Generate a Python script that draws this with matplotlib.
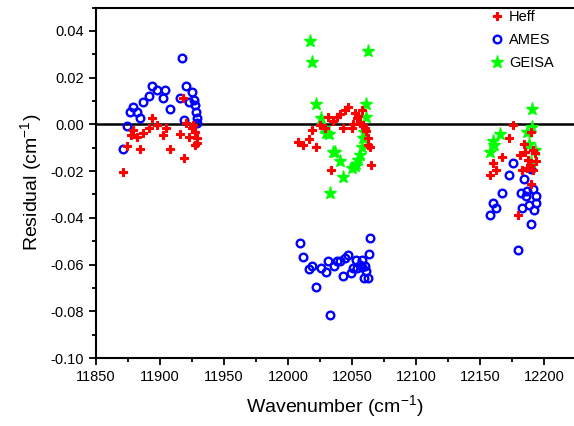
import matplotlib
matplotlib.use("Agg")
import matplotlib.pyplot as plt
from matplotlib.ticker import MultipleLocator

plt.rcParams['font.family'] = ['Liberation Sans', 'DejaVu Sans']
plt.rcParams['mathtext.default'] = 'regular'

heff_x = [11871, 11874, 11877, 11879, 11882, 11884, 11886.5, 11891.6, 11893.5, 11898,
          11902, 11904.4, 11908, 11916, 11917.7, 11918.7, 11920, 11923, 11925, 11926,
          11927, 11928.6, 11929, 11927.6,
          12008, 12011.5, 12016.7, 12019, 12022, 12025, 12029, 12031.5, 12035.4, 12038,
          12040.6, 12044.5, 12047, 12043, 12033.6, 12050, 12052, 12054, 12056, 12058,
          12058.6, 12060, 12061, 12062.7, 12064, 12062.7, 12064.6, 12051, 12055,
          12176, 12173, 12167, 12160.4, 12162.5, 12158, 12184, 12190, 12181, 12185,
          12187.7, 12191.6, 12193, 12194, 12182.5, 12186.5, 12191.6, 12189.6, 12180, 12189]
heff_y = [-0.0205, -0.0093, -0.0046, -0.0024, -0.0056, -0.0106, -0.0038, -0.0017, 0.0026, -0.0003,
          -0.0046, -0.0014, -0.0106, -0.0043, 0.0114, -0.0145, 0.0004, -0.0054, -0.0017, -0.0003,
          -0.0031, -0.0060, -0.0081, -0.0088,
          -0.0074, -0.0088, -0.0063, -0.0024, -0.0095, -0.0003, -0.0017, 0.0033, 0.0014, 0.0033,
          0.0043, 0.0061, 0.0076, -0.0017, -0.0195, -0.0017, 0.0047, 0.0026, 0.0004, 0.0061,
          -0.0003, -0.0017, -0.0030, -0.0060, -0.0095, -0.0090, -0.0174, 0.0000, 0.0035,
          -0.0003, -0.0057, -0.0138, -0.0167, -0.0195, -0.0217, -0.0085, -0.0034, -0.0131, -0.0117,
          -0.0152, -0.0110, -0.0124, -0.0157, -0.0195, -0.0185, -0.0195, -0.0256, -0.0387, -0.0175]

ames_x = [11871, 11874, 11876.6, 11879, 11882, 11884, 11886.5, 11891.6, 11893.7, 11898,
          11902, 11904, 11908, 11917, 11915.6, 11920, 11918.7, 11925, 11926.6, 11923,
          11927, 11928, 11929, 11928.6,
          12009, 12011.5, 12016.7, 12019, 12022, 12026, 12029.4, 12031.5, 12033, 12036,
          12038, 12041, 12043, 12044.5, 12047, 12049, 12050.5, 12053, 12054, 12056,
          12058, 12059, 12062.7, 12061, 12060, 12063.5, 12064, 12057.5,
          12176, 12173, 12184, 12167, 12160, 12162.5, 12158, 12181.7, 12186, 12187,
          12191.6, 12193.7, 12194, 12188.5, 12183, 12192, 12189.6, 12180, 12190]
ames_y = [-0.0107, -0.0006, 0.0054, 0.0074, 0.0054, 0.0026, 0.0094, 0.0123, 0.0165, 0.0145,
          0.0114, 0.0145, 0.0065, 0.0285, 0.0114, 0.0165, 0.0017, 0.0137, 0.0106, 0.0094,
          0.0083, 0.0054, 0.0026, 0.0004,
          -0.0507, -0.0567, -0.0618, -0.0608, -0.0697, -0.0615, -0.0630, -0.0587, -0.0818, -0.0608,
          -0.0587, -0.0587, -0.0647, -0.0570, -0.0558, -0.0637, -0.0615, -0.0580, -0.0615, -0.0601,
          -0.0580, -0.0658, -0.0658, -0.0627, -0.0608, -0.0556, -0.0487, -0.0610,
          -0.0167, -0.0217, -0.0235, -0.0295, -0.0335, -0.0356, -0.0387, -0.0295, -0.0305, -0.0285,
          -0.0276, -0.0305, -0.0338, -0.0345, -0.0356, -0.0366, -0.0427, -0.0537, -0.0190]

geisa_x = [12017, 12019, 12062.7, 12022, 12026, 12028, 12030, 12032, 12036.7, 12035.5,
           12041, 12043, 12033, 12061, 12061, 12059, 12057.5, 12056, 12055, 12052,
           12053.5, 12050, 12058.6,
           12190.4, 12191, 12186.5, 12166, 12160, 12161, 12158, 12188.5, 12193, 12189.6]
geisa_y = [0.0356, 0.0268, 0.0315, 0.0087, 0.0026, -0.0017, -0.0038, -0.0043, -0.0117, -0.0120,
           -0.0157, -0.0227, -0.0292, 0.0087, 0.0033, -0.0031, -0.0095, -0.0130, -0.0152, -0.0180,
           -0.0168, -0.0185, -0.0060,
           0.0065, -0.0010, -0.0034, -0.0043, -0.0071, -0.0088, -0.0120, -0.0085, -0.0110, -0.0160]

fig = plt.figure(figsize=(5.74, 4.26), dpi=100)
ax = fig.add_axes([96/574, 1-358/426, (574-96)/574, (358-7.5)/426])

ax.axhline(0, color='black', lw=1.8, zorder=1)

ax.plot(heff_x, heff_y, linestyle='none', marker='P', ms=6.0, color='#ff0000',
        mec='#ff0000', mew=0.8, label='Heff', zorder=3)
ax.plot(ames_x, ames_y, linestyle='none', marker='o', ms=5.5, mfc='none',
        mec='#0000ff', mew=1.7, label='AMES', zorder=2)
ax.plot(geisa_x, geisa_y, linestyle='none', marker='*', ms=9.5, color='#00ff00',
        mec='#00ff00', label='GEISA', zorder=2)

ax.set_xlim(11850, 11850 + (574-96)/1.28)
ax.set_ylim(-0.10, 0.05)
ax.xaxis.set_major_locator(MultipleLocator(50))
ax.xaxis.set_minor_locator(MultipleLocator(25))
ax.yaxis.set_major_locator(MultipleLocator(0.02))
ax.yaxis.set_minor_locator(MultipleLocator(0.01))


def yfmt(v, p):
    if abs(v) < 1e-9:
        v = 0.0
    return f"{v:.2f}"


ax.yaxis.set_major_formatter(plt.FuncFormatter(yfmt))

ax.tick_params(which='major', direction='out', length=5, width=1.3, labelsize=10.5, top=False, right=False)
ax.tick_params(which='minor', direction='out', length=3, width=1.3, top=False, right=False)
for s in ['left', 'bottom', 'top']:
    ax.spines[s].set_linewidth(1.5)
ax.spines['right'].set_visible(False)

ax.set_xlabel('Wavenumber (cm$^{-1}$)', fontsize=14, labelpad=7)
ax.set_ylabel('Residual (cm$^{-1}$)', fontsize=14, labelpad=5)

leg = ax.legend(loc='upper right', bbox_to_anchor=(0.97, 1.01), frameon=False, fontsize=10.5,
                handletextpad=0.2, labelspacing=0.62, handlelength=1.2, borderaxespad=0.0)

fig.savefig('out.png', dpi=100)
